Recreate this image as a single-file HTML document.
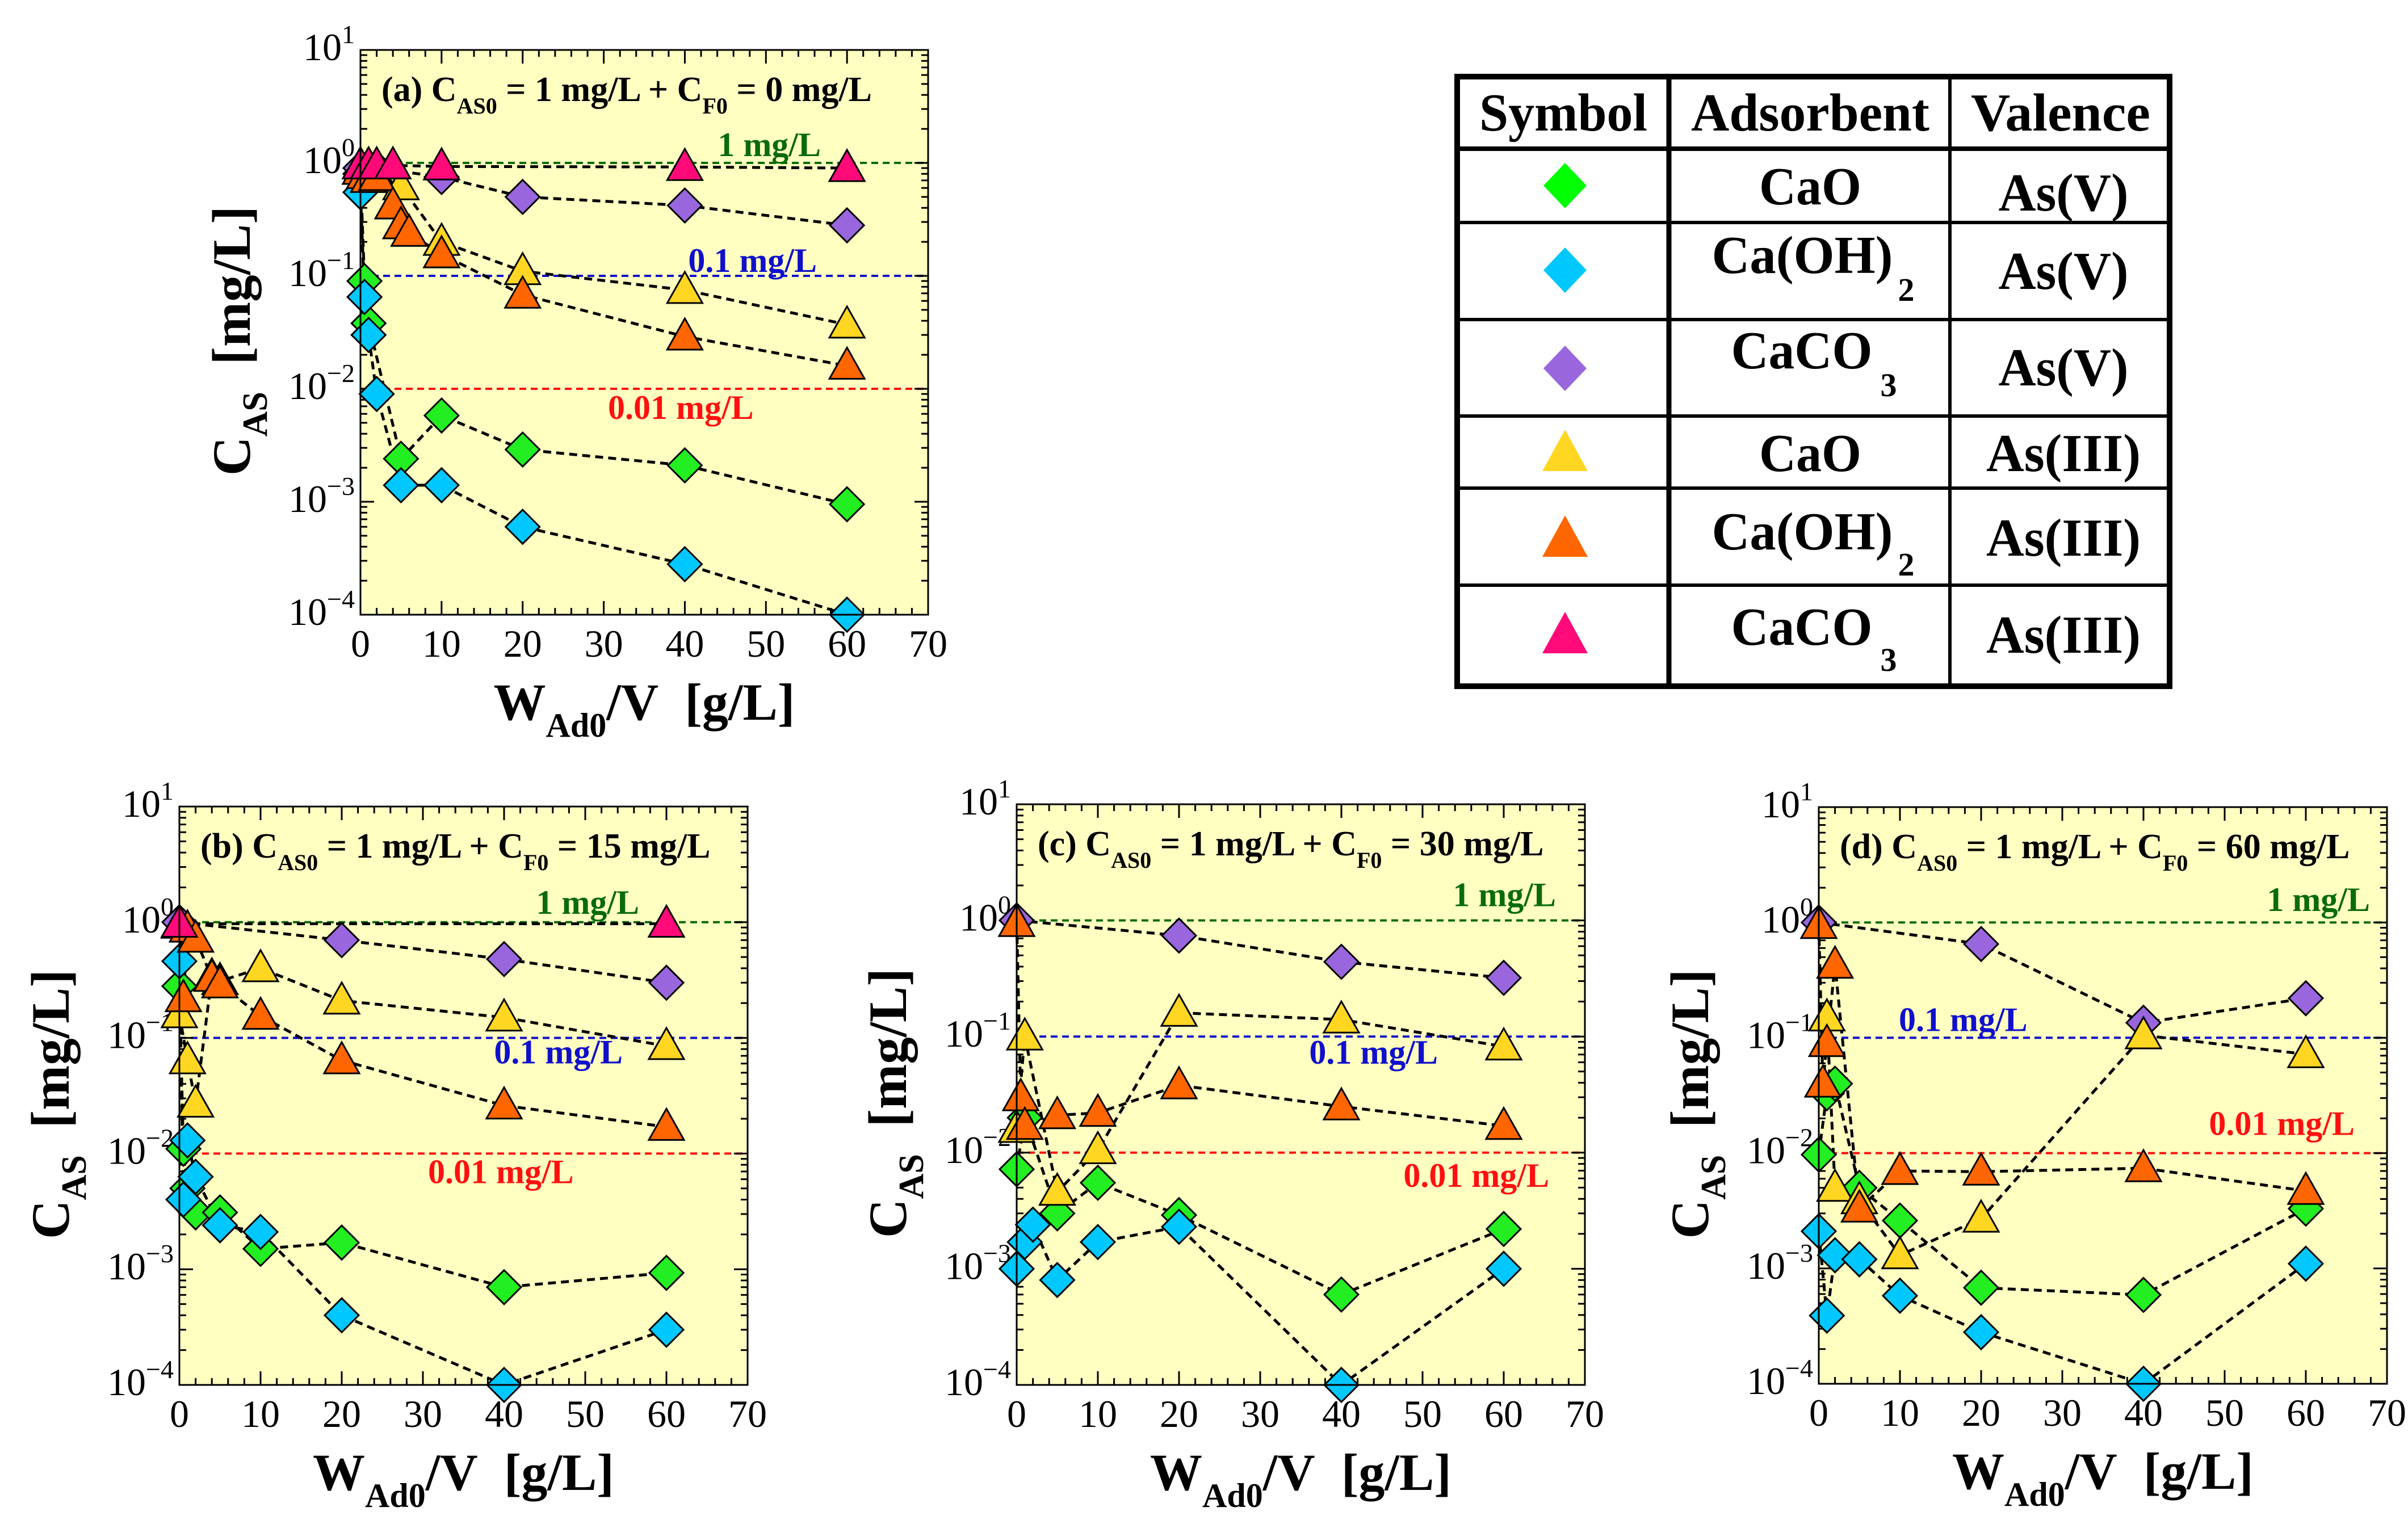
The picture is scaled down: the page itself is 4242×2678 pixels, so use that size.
<!DOCTYPE html>
<html><head><meta charset="utf-8">
<style>
html,body{margin:0;padding:0;background:#fff;}
svg{display:block;}
svg, svg text, svg tspan{font-family:"Liberation Serif","DejaVu Serif",serif;}
</style></head>
<body>
<svg id="fig" xmlns="http://www.w3.org/2000/svg" width="4242" height="2678" viewBox="0 0 4242 2678" font-family="'Liberation Serif', 'DejaVu Serif', serif">
<rect x="0" y="0" width="4242" height="2678" fill="#ffffff"/>
<g id="legend-table">
  <rect x="2567" y="135" width="1255" height="1074" fill="#fff" stroke="#000" stroke-width="10"/>
  <line x1="2940" y1="135" x2="2940" y2="1209" stroke="#000" stroke-width="9"/>
  <line x1="3435" y1="135" x2="3435" y2="1209" stroke="#000" stroke-width="6"/>
  <line x1="2567" y1="262" x2="3822" y2="262" stroke="#000" stroke-width="8"/>
  <line x1="2567" y1="392" x2="3822" y2="392" stroke="#000" stroke-width="6"/>
  <line x1="2567" y1="563" x2="3822" y2="563" stroke="#000" stroke-width="6"/>
  <line x1="2567" y1="733" x2="3822" y2="733" stroke="#000" stroke-width="6"/>
  <line x1="2567" y1="860" x2="3822" y2="860" stroke="#000" stroke-width="6"/>
  <line x1="2567" y1="1031" x2="3822" y2="1031" stroke="#000" stroke-width="6"/>
  <g font-weight="bold" font-size="94" text-anchor="middle" fill="#000">
    <text x="2754" y="230" textLength="296" lengthAdjust="spacingAndGlyphs">Symbol</text>
    <text x="3189" y="230" textLength="420" lengthAdjust="spacingAndGlyphs">Adsorbent</text>
    <text x="3630" y="230" textLength="316" lengthAdjust="spacingAndGlyphs">Valence</text>
    <text x="3189" y="360" textLength="180" lengthAdjust="spacingAndGlyphs">CaO</text>
    <text x="3635" y="371" textLength="229" lengthAdjust="spacingAndGlyphs">As(V)</text>
    <text x="3175" y="481" textLength="319" lengthAdjust="spacingAndGlyphs">Ca(OH)</text>
    <text x="3358" y="530" font-size="58">2</text>
    <text x="3635" y="509" textLength="229" lengthAdjust="spacingAndGlyphs">As(V)</text>
    <text x="3174" y="649" textLength="249" lengthAdjust="spacingAndGlyphs">CaCO</text>
    <text x="3327" y="698" font-size="58">3</text>
    <text x="3635" y="679" textLength="229" lengthAdjust="spacingAndGlyphs">As(V)</text>
    <text x="3189" y="830" textLength="180" lengthAdjust="spacingAndGlyphs">CaO</text>
    <text x="3635" y="830" textLength="272" lengthAdjust="spacingAndGlyphs">As(III)</text>
    <text x="3175" y="968" textLength="319" lengthAdjust="spacingAndGlyphs">Ca(OH)</text>
    <text x="3358" y="1014" font-size="58">2</text>
    <text x="3635" y="979" textLength="272" lengthAdjust="spacingAndGlyphs">As(III)</text>
    <text x="3174" y="1136" textLength="249" lengthAdjust="spacingAndGlyphs">CaCO</text>
    <text x="3327" y="1182" font-size="58">3</text>
    <text x="3635" y="1150" textLength="272" lengthAdjust="spacingAndGlyphs">As(III)</text>
  </g>
  <polygon points="2757,287 2795,327 2757,367 2719,327" fill="#00ff00"/>
  <polygon points="2757,436 2795,476 2757,516 2719,476" fill="#00c8ff"/>
  <polygon points="2757,609 2795,649 2757,689 2719,649" fill="#9966dd"/>
  <polygon points="2757,757 2797,830 2717,830" fill="#ffd622"/>
  <polygon points="2757,908 2797,981 2717,981" fill="#ff6600"/>
  <polygon points="2757,1078 2797,1151 2717,1151" fill="#ff0a78"/>
</g>
</svg>
<script>
// ---------- data (x: W_Ad0/V in g/L, y: C_AS in mg/L) ----------
// Panel (a) C_F0 = 0 mg/L
const A_caoV_x = [0,0.5,1,5,10,20,40,60];
const A_caoV_y = [0.8,0.09,0.038,0.0024,0.0058,0.0029,0.0021,0.00095];
const A_ohV_x = [0,0.5,1,2,5,10,20,40,60];
const A_ohV_y = [0.55,0.065,0.03,0.009,0.0014,0.0014,0.0006,0.00028,0.0001];
const A_co3V_x = [0,2,10,20,40,60];
const A_co3V_y = [0.9,0.9,0.75,0.5,0.42,0.28];
const A_caoIII_x = [0,1,2,5,10,20,40,60];
const A_caoIII_y = [0.85,0.8,0.8,0.62,0.2,0.11,0.075,0.037];
const A_ohIII_x = [0,0.5,1,2,4,5,6,10,20,40,60];
const A_ohIII_y = [0.85,0.78,0.72,0.75,0.42,0.28,0.24,0.155,0.068,0.029,0.016];
const A_co3III_x = [0,1,2,4,10,40,60];
const A_co3III_y = [0.95,0.95,0.95,0.95,0.93,0.92,0.9];
// Panel (b) C_F0 = 15 mg/L
const B_caoV_x = [0,0.5,1,2,5,10,20,40,60];
const B_caoV_y = [0.28,0.011,0.005,0.0031,0.0031,0.0015,0.0017,0.0007,0.00093];
const B_ohV_x = [0,0.5,1,2,5,10,20,40,60];
const B_ohV_y = [0.46,0.004,0.013,0.0063,0.0024,0.0021,0.0004,0.0001,0.0003];
const B_co3V_x = [0,20,40,60];
const B_co3V_y = [1.0,0.7,0.48,0.3];
const B_caoIII_x = [0,1,2,4,5,10,20,40,60];
const B_caoIII_y = [0.16,0.064,0.027,0.34,0.31,0.4,0.21,0.15,0.085];
const B_ohIII_x = [0,0.5,1,2,4,5,10,20,40,60];
const B_ohIII_y = [0.95,0.22,0.88,0.72,0.33,0.29,0.155,0.064,0.026,0.017];
const B_co3III_x = [0,60];
const B_co3III_y = [0.97,0.97];
// Panel (c) C_F0 = 30 mg/L
const C_caoV_x = [0,1,5,10,20,40,60];
const C_caoV_y = [0.0072,0.02,0.003,0.0055,0.0029,0.0006,0.0022];
const C_ohV_x = [0,1,2,5,10,20,40,60];
const C_ohV_y = [0.001,0.0017,0.0024,0.0008,0.0017,0.0023,0.0001,0.001];
const C_co3V_x = [0,20,40,60];
const C_co3V_y = [1.0,0.74,0.44,0.32];
const C_caoIII_x = [0,1,5,10,20,40,60];
const C_caoIII_y = [0.016,0.1,0.0046,0.0105,0.16,0.14,0.082];
const C_ohIII_x = [0,0.5,1,5,10,20,40,60];
const C_ohIII_y = [0.95,0.03,0.017,0.021,0.022,0.038,0.025,0.017];
const C_co3III_x = [];
const C_co3III_y = [];
// Panel (d) C_F0 = 60 mg/L
const D_caoV_x = [0,1,2,5,10,20,40,60];
const D_caoV_y = [0.0097,0.033,0.04,0.005,0.0026,0.00068,0.00059,0.0033];
const D_ohV_x = [0,1,2,5,10,20,40,60];
const D_ohV_y = [0.0021,0.00039,0.0013,0.0012,0.00058,0.00028,0.0001,0.0011];
const D_co3V_x = [0,20,40,60];
const D_co3V_y = [1.0,0.65,0.135,0.22];
const D_caoIII_x = [1,2,5,10,20,40,60];
const D_caoIII_y = [0.15,0.005,0.0039,0.0013,0.0027,0.105,0.072];
const D_ohIII_x = [0,0.5,1,2,5,10,20,40,60];
const D_ohIII_y = [0.95,0.04,0.09,0.43,0.0033,0.007,0.0069,0.0074,0.0047];
const D_co3III_x = [];
const D_co3III_y = [];

const xTickLabels = ["0","10","20","30","40","50","60","70"];
const xTickValues = [0,10,20,30,40,50,60,70];
const yTickExponents = [1,0,-1,-2,-3,-4];
const refValues = [1,0.1,0.01];
const refLabels = ["1 mg/L","0.1 mg/L","0.01 mg/L"];

// ---------- rendering ----------
const NS = "http://www.w3.org/2000/svg";
const svg = document.getElementById("fig");
function mk(tag, attrs, parent){
  const e = document.createElementNS(NS, tag);
  for (const k in attrs) e.setAttribute(k, attrs[k]);
  (parent||svg).appendChild(e);
  return e;
}
const COLORS = {caoV:"#22ee22", ohV:"#00c8ff", co3V:"#9966dd", caoIII:"#ffd622", ohIII:"#ff6600", co3III:"#ff0a78"};
const SHAPES = {caoV:"d", ohV:"d", co3V:"d", caoIII:"t", ohIII:"t", co3III:"t"};
const REF_COLORS = ["#0b6b0b","#1010cc","#ff1010"];

const panels = [
  {id:"a", letter:"(a)", cf:"0", L:635, T:88, R:1635, B:1083,
   series:{caoV:[A_caoV_x,A_caoV_y], ohV:[A_ohV_x,A_ohV_y], co3V:[A_co3V_x,A_co3V_y], caoIII:[A_caoIII_x,A_caoIII_y], ohIII:[A_ohIII_x,A_ohIII_y], co3III:[A_co3III_x,A_co3III_y]},
   refLab:[{x:811,a:"end",dy:-12},{x:804,a:"end",dy:-7},{x:436,a:"start",dy:53}]},
  {id:"b", letter:"(b)", cf:"15", L:316, T:1421, R:1317, B:2440,
   series:{caoV:[B_caoV_x,B_caoV_y], ohV:[B_ohV_x,B_ohV_y], co3V:[B_co3V_x,B_co3V_y], caoIII:[B_caoIII_x,B_caoIII_y], ohIII:[B_ohIII_x,B_ohIII_y], co3III:[B_co3III_x,B_co3III_y]},
   refLab:[{x:810,a:"end",dy:-15},{x:781,a:"end",dy:45},{x:438,a:"start",dy:52}]},
  {id:"c", letter:"(c)", cf:"30", L:1791, T:1417, R:2792, B:2440,
   series:{caoV:[C_caoV_x,C_caoV_y], ohV:[C_ohV_x,C_ohV_y], co3V:[C_co3V_x,C_co3V_y], caoIII:[C_caoIII_x,C_caoIII_y], ohIII:[C_ohIII_x,C_ohIII_y], co3III:[C_co3III_x,C_co3III_y]},
   refLab:[{x:950,a:"end",dy:-25},{x:742,a:"end",dy:48},{x:938,a:"end",dy:60}]},
  {id:"d", letter:"(d)", cf:"60", L:3204, T:1422, R:4205, B:2438,
   series:{caoV:[D_caoV_x,D_caoV_y], ohV:[D_ohV_x,D_ohV_y], co3V:[D_co3V_x,D_co3V_y], caoIII:[D_caoIII_x,D_caoIII_y], ohIII:[D_ohIII_x,D_ohIII_y], co3III:[D_co3III_x,D_co3III_y]},
   refLab:[{x:971,a:"end",dy:-20},{x:141,a:"start",dy:-12},{x:944,a:"end",dy:-32}]}
];

panels.forEach(p => {
  const g = mk("g", {});
  
  
  const W = p.R - p.L, H = p.B - p.T;
  const xs = v => p.L + v / 70 * W;
  const ys = v => p.T + (1 - Math.log10(v)) / 5 * H;

  const bg = mk("rect", {x:p.L, y:p.T, width:W, height:H, fill:"#ffffc2"}, g);
  
  

  refValues.forEach((v,i) => {
    const ln = mk("line", {x1:p.L, x2:p.R, y1:ys(v), y2:ys(v), stroke:REF_COLORS[i], "stroke-width":4, "stroke-dasharray":"12,8"}, g);
    
    
    const rl = p.refLab[i];
    const t = mk("text", {x:p.L + rl.x, y:ys(v) + rl.dy, "text-anchor":rl.a, "font-size":60, "font-weight":"bold", fill:REF_COLORS[i]}, g);
    t.textContent = refLabels[i];
    
    
  });

  const tk = mk("g", {stroke:"#000", "stroke-width":3}, g);
  for (let v = 0; v <= 70; v += 2) {
    const major = v % 10 === 0, len = major ? 24 : 12, x = xs(v);
    mk("line", {x1:x, x2:x, y1:p.B, y2:p.B - len}, tk);
    mk("line", {x1:x, x2:x, y1:p.T, y2:p.T + len}, tk);
  }
  for (let e = -4; e <= 1; e++) {
    for (let m = 1; m <= 9; m++) {
      if (e === 1 && m > 1) break;
      const y = ys(m * Math.pow(10, e)), len = m === 1 ? 24 : 12;
      mk("line", {x1:p.L, x2:p.L + len, y1:y, y2:y}, tk);
      mk("line", {x1:p.R, x2:p.R - len, y1:y, y2:y}, tk);
    }
  }

  xTickValues.forEach((v,i) => {
    const t = mk("text", {x:xs(v), y:p.B + 74, "text-anchor":"middle", "font-size":68, fill:"#000"}, g);
    t.textContent = xTickLabels[i];
    
    
  });
  yTickExponents.forEach(e => {
    const t = mk("text", {x:p.L - 10, y:ys(Math.pow(10,e)) + 18, "text-anchor":"end", "font-size":68, fill:"#000"}, g);
    
    
    const a = mk("tspan", {}, t); a.textContent = "10";
    const b = mk("tspan", {dy:-30, "font-size":46}, t); b.textContent = (e < 0 ? "\u2212" : "") + Math.abs(e);
  });

  const tt = mk("text", {x:p.L + 37, y:p.T + 90, "font-size":62, "font-weight":"bold", fill:"#000"}, g);
  
  
  [[p.letter + " C",0,62],["AS0",22,40],[" = 1 mg/L + C",-22,62],["F0",22,40],[" = " + p.cf + " mg/L",-22,62]].forEach(s => {
    const ts = mk("tspan", {dy:s[1], "font-size":s[2]}, tt); ts.textContent = s[0];
  });

  const xt = mk("text", {x:(p.L+p.R)/2, y:p.B + 185, "text-anchor":"middle", "font-size":92, "font-weight":"bold", fill:"#000"}, g);
  
  
  [["W",0,92],["Ad0",30,60],["/V\u00a0\u00a0[g/L]",-30,92]].forEach(s => {
    const ts = mk("tspan", {dy:s[1], "font-size":s[2]}, xt); ts.textContent = s[0];
  });
  const yt = mk("text", {transform:"translate(" + (p.L - 195) + "," + ((p.T+p.B)/2 + 15) + ") rotate(-90)", "text-anchor":"middle", "font-size":95, "font-weight":"bold", fill:"#000"}, g);
  
  
  [["C",0,95],["AS",30,62],["\u00a0\u00a0[mg/L]",-30,95]].forEach(s => {
    const ts = mk("tspan", {dy:s[1], "font-size":s[2]}, yt); ts.textContent = s[0];
  });

  Object.keys(p.series).forEach(k => {
    const [X, Y] = p.series[k];
    if (X.length < 2) return;
    const pts = X.map((x,i) => xs(x).toFixed(1) + "," + ys(Y[i]).toFixed(1)).join(" ");
    const pl = mk("polyline", {points:pts, fill:"none", stroke:"#000", "stroke-width":5, "stroke-dasharray":"14,9"}, g);
    
    
  });
  Object.keys(p.series).forEach(k => {
    const [X, Y] = p.series[k];
    X.forEach((x,i) => {
      const cx = xs(x), cy = ys(Y[i]);
      let pts;
      if (SHAPES[k] === "d") pts = [[cx,cy-30],[cx+30,cy],[cx,cy+30],[cx-30,cy]];
      else pts = [[cx,cy-32],[cx+31,cy+23],[cx-31,cy+23]];
      const m = mk("polygon", {points:pts.map(q=>q[0].toFixed(1)+","+q[1].toFixed(1)).join(" "), fill:COLORS[k], stroke:"#000", "stroke-width":3}, g);
      
      
    });
  });

  const fr = mk("rect", {x:p.L, y:p.T, width:W, height:H, fill:"none", stroke:"#000", "stroke-width":3}, g);
  
  
});
</script>
</body></html>
